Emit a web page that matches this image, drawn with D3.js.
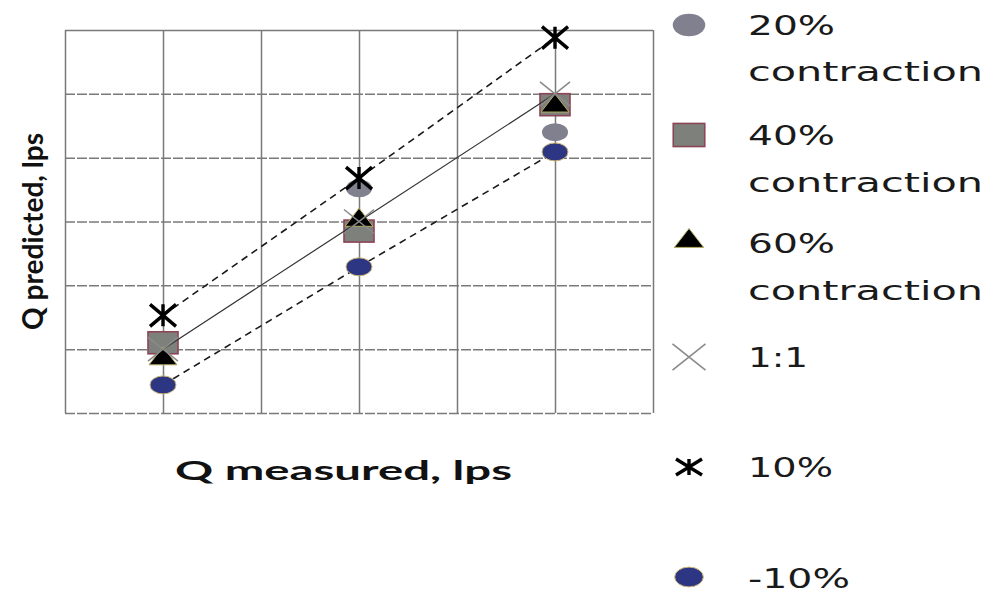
<!DOCTYPE html>
<html>
<head>
<meta charset="utf-8">
<script src="https://cdn.jsdelivr.net/npm/d3@7"></script>
<style>
  html, body { margin: 0; padding: 0; background: #fff; }
  svg { display: block; }
</style>
</head>
<body>
<svg id="chart" width="987" height="594"></svg>
<script>
// Measured discharge (grid units) and predicted discharge per series
const measured = [1, 3, 5];
const contraction20 = [1.10, 3.52, 4.40];
const contraction40 = [1.10, 2.85, 4.83];
const contraction60 = [0.88, 3.05, 4.84];
const oneToOne = [1, 3, 5];
const plus10 = [1.53, 3.68, 5.88];
const minus10 = [0.44, 2.29, 4.09];

const gridTicks = [0, 1, 2, 3, 4, 5, 6];
const xLabel = "Q measured, lps";
const yLabel = "Q predicted, lps";
const legendLabels = [
  ["20%", "contraction"],
  ["40%", "contraction"],
  ["60%", "contraction"],
  ["1:1"],
  ["10%"],
  ["-10%"]
];

const svg = d3.select("#chart");
const plot = { left: 65, right: 653, top: 30, bottom: 413 };

const x = d3.scaleLinear().domain([0, 6]).range([plot.left, plot.right]);
const y = d3.scaleLinear().domain([0, 6]).range([plot.bottom, plot.top]);

// Grid: solid verticals, dashed horizontals
const gx = svg.append("g")
  .attr("transform", `translate(0,${plot.bottom})`)
  .call(d3.axisBottom(x).tickValues(gridTicks).tickSize(-(plot.bottom - plot.top)).tickFormat(""));
gx.select(".domain").remove();
gx.selectAll(".tick line").attr("stroke", "#7a7a7a").attr("stroke-width", 1.5);

const gy = svg.append("g")
  .attr("transform", `translate(${plot.left},0)`)
  .call(d3.axisLeft(y).tickValues(gridTicks).tickSize(-(plot.right - plot.left)).tickFormat(""));
gy.select(".domain").remove();
gy.selectAll(".tick line")
  .attr("stroke", "#7a7a7a")
  .attr("stroke-width", 1.5)
  .attr("stroke-dasharray", d => d === 6 ? null : "10,2");

// Helper to build point objects
const pts = vals => measured.map((m, i) => ({ x: m, y: vals[i] }));
const line = d3.line().x(d => x(d.x)).y(d => y(d.y));

// Marker drawers (centered at 0,0)
const markers = {
  ellipseGray: (g, s = 1) => g.append("ellipse").attr("rx", 13 * s).attr("ry", 9 * s)
    .attr("fill", "#80808f"),
  square: (g, s = 1) => g.append("rect").attr("x", -15 * s).attr("y", -11 * s)
    .attr("width", 30 * s).attr("height", 22 * s)
    .attr("fill", "#7d807b").attr("stroke", "#8b4557").attr("stroke-width", 1.6),
  triangle: (g, s = 1) => g.append("path")
    .attr("d", `M0,${-10 * s} L${14 * s},${8 * s} L${-14 * s},${8 * s} Z`)
    .attr("fill", "#000").attr("stroke", "#b5ae62").attr("stroke-width", 1),
  cross: (g, s = 1) => g.append("path")
    .attr("d", `M${-15 * s},${-12 * s} L${15 * s},${12 * s} M${15 * s},${-12 * s} L${-15 * s},${12 * s}`)
    .attr("stroke", "#8a8a8a").attr("stroke-width", 1.6).attr("fill", "none"),
  star: (g, s = 1, hx = 13, hy = 11) => g.append("path")
    .attr("d", `M${-hx * s},${-hy * s} L${hx * s},${hy * s} M${hx * s},${-hy * s} L${-hx * s},${hy * s} M0,${-hy * s} L0,${hy * s}`)
    .attr("stroke", "#000").attr("stroke-width", 3.4).attr("fill", "none"),
  ellipseBlue: (g, s = 1) => g.append("ellipse").attr("rx", 13 * s).attr("ry", 9 * s)
    .attr("fill", "#2c3682").attr("stroke", "#cdb877").attr("stroke-width", 1)
};

function drawPoints(vals, drawer) {
  const g = svg.append("g");
  g.selectAll("g.pt").data(pts(vals)).join("g")
    .attr("class", "pt")
    .attr("transform", d => `translate(${x(d.x)},${y(d.y)})`)
    .each(function () { drawer(d3.select(this)); });
}

function drawLine(vals, dashed) {
  svg.append("path")
    .datum(pts(vals))
    .attr("d", line)
    .attr("fill", "none")
    .attr("stroke", dashed ? "#1a1a1a" : "#333")
    .attr("stroke-width", dashed ? 1.6 : 1.2)
    .attr("stroke-dasharray", dashed ? "7,5" : null);
}

// Series, in drawing order
drawPoints(contraction20, markers.ellipseGray);
drawPoints(contraction40, markers.square);
drawPoints(contraction60, markers.triangle);
drawLine(oneToOne, false);
drawPoints(oneToOne, markers.cross);
drawLine(plus10, true);
drawPoints(plus10, markers.star);
drawLine(minus10, true);
drawPoints(minus10, markers.ellipseBlue);

// Axis titles
svg.append("text")
  .attr("x", 175).attr("y", 480)
  .attr("font-family", "Lato, 'Open Sans', sans-serif")
  .attr("font-weight", "bold")
  .attr("font-size", 26)
  .attr("textLength", 337)
  .attr("lengthAdjust", "spacingAndGlyphs")
  .attr("fill", "#111")
  .text(xLabel);

svg.append("text")
  .attr("transform", "translate(43,330) rotate(-90)")
  .attr("font-family", "Lato, 'Open Sans', sans-serif")
  .attr("font-weight", "bold")
  .attr("font-size", 29)
  .attr("textLength", 197)
  .attr("lengthAdjust", "spacingAndGlyphs")
  .attr("fill", "#111")
  .text(yLabel);

// Legend
const legendItems = [
  { draw: g => markers.ellipseGray(g, 1.25), cy: 25, lines: [[35, 87], [81, 235]] },
  { draw: g => markers.square(g, 1.05), cy: 135, lines: [[145, 87], [192, 235]] },
  { draw: g => markers.triangle(g, 1.05), cy: 239, lines: [[253, 87], [300, 235]] },
  { draw: g => markers.cross(g, 1.1), cy: 357, lines: [[367, 60]] },
  { draw: g => markers.star(g, 1, 13, 8), cy: 467, lines: [[477, 85]] },
  { draw: g => markers.ellipseBlue(g, 1.1), cy: 577, lines: [[588, 102]] }
];

legendItems.forEach((item, i) => {
  const g = svg.append("g").attr("transform", `translate(689,${item.cy})`);
  item.draw(g);
  item.lines.forEach((ln, j) => {
    svg.append("text")
      .attr("x", 748).attr("y", ln[0])
      .attr("font-family", "'DejaVu Sans', Verdana, sans-serif")
      .attr("font-size", 26)
      .attr("textLength", ln[1])
      .attr("lengthAdjust", "spacingAndGlyphs")
      .attr("fill", "#1a1a1a")
      .text(legendLabels[i][j]);
  });
});
</script>
</body>
</html>
